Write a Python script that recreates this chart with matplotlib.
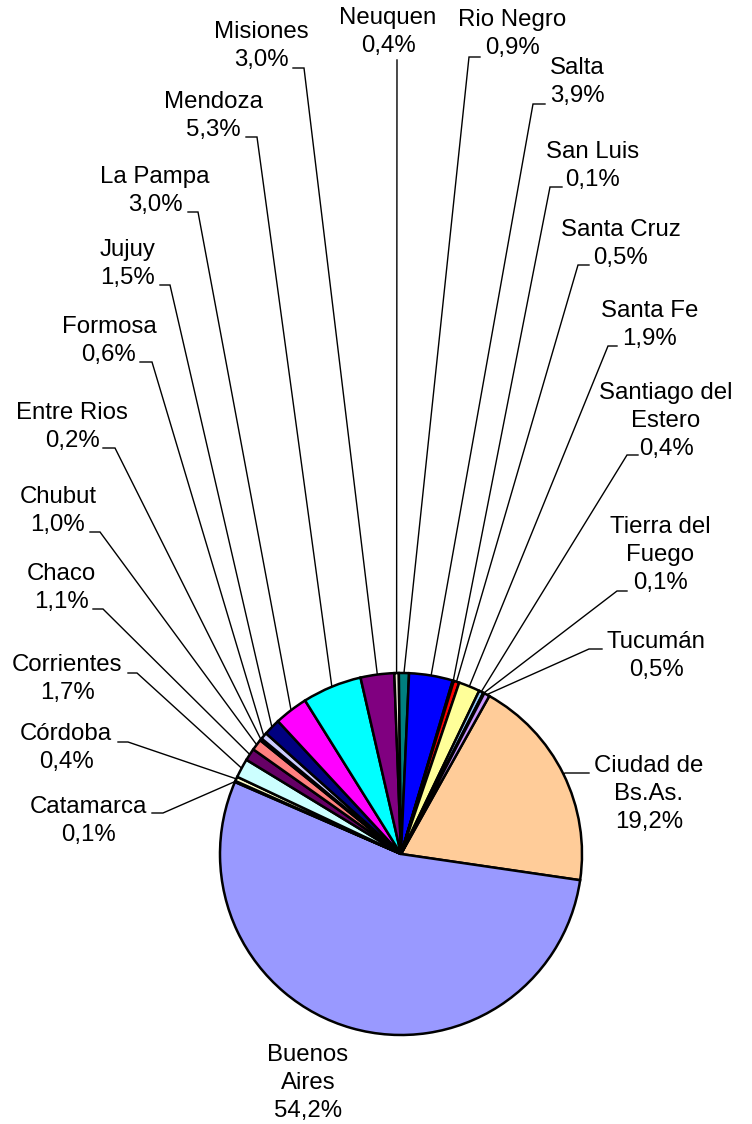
import matplotlib.pyplot as plt
import numpy as np

# provincias y porcentajes (en orden de la torta, sentido horario)
provincias = ['Ciudad de\nBs.As.', 'Buenos\nAires', 'Catamarca', 'Córdoba', 'Corrientes',
              'Chaco', 'Chubut', 'Entre Rios', 'Formosa', 'Jujuy', 'La Pampa',
              'Mendoza', 'Misiones', 'Neuquen', 'Rio Negro', 'Salta', 'San Luis',
              'Santa Cruz', 'Santa Fe', 'Santiago del\nEstero', 'Tierra del\nFuego',
              'Tucumán']
porcentajes = [19.2, 54.2, 0.1, 0.4, 1.7, 1.1, 1.0, 0.2, 0.6, 1.5, 3.0,
               5.3, 3.0, 0.4, 0.9, 3.9, 0.1, 0.5, 1.9, 0.4, 0.1, 0.5]
colores = ['#FFCC99', '#9999FF', '#993366', '#FFFFCC', '#CCFFFF', '#660066',
           '#FF8080', '#0066CC', '#CCCCFF', '#000080', '#FF00FF', '#00FFFF',
           '#800080', '#F0E8D8', '#008080', '#0000FF', '#00CCFF', '#FF0000',
           '#FFFF99', '#99CCFF', '#FF99CC', '#CC99FF']

# posiciones de las etiquetas en pixeles: (x texto, y texto, x codo, y codo, x fin, y fin)
# None = sin linea guia
W, H = 752, 1124
pos = [
    (649, 794, 565, 773, 589, 773),   # Ciudad
    (308, 1083, None, None, None, None),  # Buenos Aires
    (88, 821, 163, 813, 152, 813),    # Catamarca
    (66, 748, 128, 742, 118, 742),    # Cordoba
    (67, 679, 137, 673, 128, 673),    # Corrientes
    (61, 588, 103, 609, 93, 609),     # Chaco
    (58, 511, 100, 532, 90, 532),     # Chubut
    (72, 427, 115, 448, 103, 448),    # Entre Rios
    (109, 341, 152, 362, 140, 362),   # Formosa
    (128, 264, 170, 285, 160, 285),   # Jujuy
    (155, 191, 198, 212, 188, 212),   # La Pampa
    (213, 116, 257, 137, 246, 137),   # Mendoza
    (261, 46, 304, 68, 293, 68),      # Misiones
    (388, 32, 397, 60, 397, 60),      # Neuquen
    (512, 34, 469, 57, 480, 57),      # Rio Negro
    (577, 82, 533, 104, 545, 104),    # Salta
    (593, 166, 550, 187, 562, 187),   # San Luis
    (621, 244, 578, 265, 589, 265),   # Santa Cruz
    (650, 325, 608, 346, 617, 346),   # Santa Fe
    (666, 421, 627, 455, 638, 455),   # Santiago del Estero
    (660, 555, 617, 591, 627, 591),   # Tierra del Fuego
    (656, 656, 589, 649, 602, 649),   # Tucuman
]

plt.rcParams['font.family'] = ['Liberation Sans', 'DejaVu Sans']

fig = plt.figure(figsize=(W / 100, H / 100), dpi=100)
ax = fig.add_axes([0, 0, 1, 1])

cx, cy, r = 401, H - 854, 181
wedges, _ = ax.pie(porcentajes, colors=colores, startangle=60.8, counterclock=False,
                   center=(cx, cy), radius=r,
                   wedgeprops=dict(edgecolor='black', linewidth=1.8))

for w, nombre, v, p in zip(wedges, provincias, porcentajes, pos):
    tx, ty, bx, by, ex, ey = p
    texto = nombre + '\n' + ('%.1f%%' % v).replace('.', ',')
    ax.text(tx, H - ty, texto, ha='center', va='center', fontsize=17.3,
            linespacing=1.37, multialignment='center')
    if bx is None:
        continue
    # linea guia desde el centro del arco de cada porcion
    ang = np.deg2rad((w.theta1 + w.theta2) / 2)
    px, py = cx + r * np.cos(ang), cy + r * np.sin(ang)
    ax.plot([px, bx, ex], [py, H - by, H - ey], color='black', linewidth=1.0,
            solid_joinstyle='miter', zorder=0)

ax.set_xlim(0, W)
ax.set_ylim(0, H)
ax.set_aspect('auto')
ax.axis('off')

plt.savefig('out.png', dpi=100)
